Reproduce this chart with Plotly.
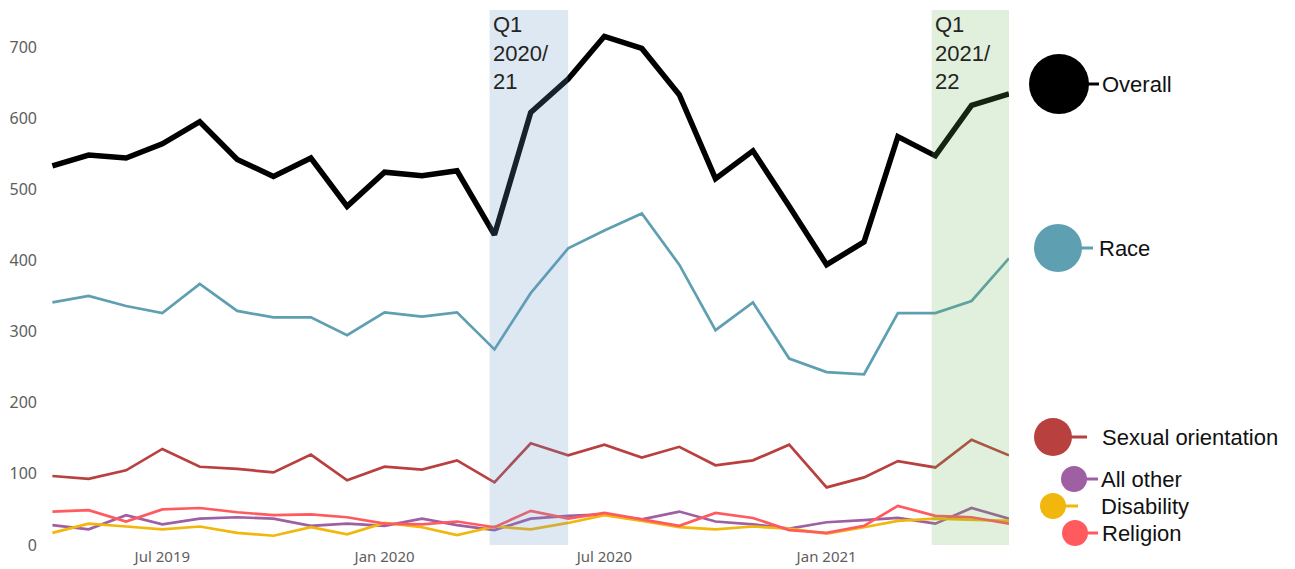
import pandas as pd
import plotly.graph_objects as go

# ---------------- data ----------------
months = list(pd.date_range("2019-04-01", periods=27, freq="MS"))

overall = [533, 548, 544, 564, 595, 542, 518, 544, 476, 524, 519, 526, 436,
           608, 655, 715, 698, 633, 515, 554, 476, 394, 426, 574, 547, 618, 634]
race = [341, 350, 336, 326, 367, 329, 320, 320, 295, 327, 321, 327, 275,
        354, 417, 442, 466, 394, 302, 341, 262, 243, 240, 326, 326, 343, 403]
sexual_orientation = [97, 93, 105, 135, 110, 107, 102, 127, 91, 110, 106, 119, 88,
                      143, 126, 141, 123, 138, 112, 119, 141, 81, 95, 118, 109, 148, 126]
all_other = [28, 22, 42, 29, 37, 39, 37, 27, 30, 27, 37, 28, 21,
             37, 41, 43, 36, 47, 33, 29, 23, 32, 35, 38, 30, 52, 37]
disability = [17, 30, 26, 22, 26, 17, 13, 25, 15, 31, 25, 14, 26,
              22, 31, 42, 34, 25, 22, 26, 23, 16, 25, 34, 37, 36, 34]
religion = [47, 49, 33, 50, 52, 46, 42, 43, 39, 30, 29, 33, 25,
            48, 37, 45, 36, 27, 45, 38, 21, 17, 27, 55, 41, 39, 30]

series_names = ["Overall", "Race", "Sexual orientation", "All other", "Disability", "Religion"]
series_values = [overall, race, sexual_orientation, all_other, disability, religion]

tick_dates = ["2019-07-01", "2020-01-01", "2020-07-01", "2021-01-01"]
y_ticks = [0, 100, 200, 300, 400, 500, 600, 700]

band_ranges = [("2020-03-28", "2020-06-01"), ("2021-03-29", "2021-06-01")]
band_labels = ["Q1<br>2020/<br>21", "Q1<br>2021/<br>22"]

# ---------------- styles ----------------
colors = ["#000000", "#5F9FB2", "#B8403F", "#9E5FA3", "#F2B70C", "#FF5B5E"]
widths = [5.5, 2.7, 2.7, 2.7, 2.7, 2.7]
band_colors = ["rgba(105,150,200,0.22)", "rgba(100,180,80,0.2)"]

W, H = 1295, 569
ML, MR, MT, MB = 50, W - 1009, 10, H - 545
PW, PH = W - ML - MR, H - MT - MB

def px_x(x):
    return (x - ML) / PW

def px_y(y):
    return (H - MB - y) / PH

# legend: (circle centre x, centre y, radius, stub end x, text x) in pixels
legend_pos = [
    (1059, 84, 30, 1099, 1100),
    (1058, 248, 24, 1093, 1097),
    (1053, 437, 19, 1087, 1100),
    (1074, 479, 13, 1098, 1099),
    (1053, 506, 13, 1078, 1099),
    (1075, 533, 13, 1098, 1100),
]

fig = go.Figure()
for name, vals, c, w in zip(series_names, series_values, colors, widths):
    fig.add_trace(go.Scatter(x=months, y=vals, mode="lines", name=name,
                             line=dict(color=c, width=w, shape="linear"),
                             showlegend=False))

shapes = []
annotations = []
for (x0, x1), bc, lab in zip(band_ranges, band_colors, band_labels):
    shapes.append(dict(type="rect", xref="x", yref="paper", x0=x0, x1=x1, y0=0, y1=1,
                       fillcolor=bc, line=dict(width=0), layer="above"))
    annotations.append(dict(x=x0, xref="x", y=1, yref="paper", xanchor="left", yanchor="top",
                            text=lab, showarrow=False, align="left", xshift=1, yshift=0,
                            font=dict(family="Liberation Sans, Arial", size=22, color="#252423")))

for name, c, (cx, cy, r, sx, tx) in zip(series_names, colors, legend_pos):
    shapes.append(dict(type="line", xref="paper", yref="paper",
                       x0=px_x(cx), x1=px_x(sx), y0=px_y(cy), y1=px_y(cy),
                       line=dict(color=c, width=3)))
    shapes.append(dict(type="circle", xref="paper", yref="paper",
                       xsizemode="pixel", ysizemode="pixel",
                       xanchor=px_x(cx), yanchor=px_y(cy),
                       x0=-r, x1=r, y0=-r, y1=r,
                       fillcolor=c, line=dict(width=0)))
    annotations.append(dict(x=px_x(tx), xref="paper", y=px_y(cy), yref="paper",
                            xanchor="left", yanchor="middle", text=name, showarrow=False,
                            font=dict(family="Liberation Sans, Arial", size=22, color="#111111")))

fig.update_layout(
    width=W, height=H,
    margin=dict(l=ML, r=MR, t=MT, b=MB, pad=0, autoexpand=False),
    paper_bgcolor="white", plot_bgcolor="white",
    shapes=shapes, annotations=annotations,
    xaxis=dict(range=["2019-03-30", "2021-06-01"], tickvals=tick_dates, tickformat="%b %Y",
               showgrid=False, zeroline=False, showline=False, ticks="", automargin=False,
               tickfont=dict(family="Noto Sans", size=15, color="#605E5C"),
               ticklabelstandoff=1),
    yaxis=dict(range=[0, 752], tickvals=y_ticks, showgrid=False, zeroline=False,
               showline=False, ticks="", automargin=False,
               tickfont=dict(family="Noto Sans", size=16, color="#605E5C"),
               ticklabelstandoff=12),
)

fig.write_html("out.html", config={"displayModeBar": False},
               post_script="document.body.style.margin='0';document.body.style.overflow='hidden';")
